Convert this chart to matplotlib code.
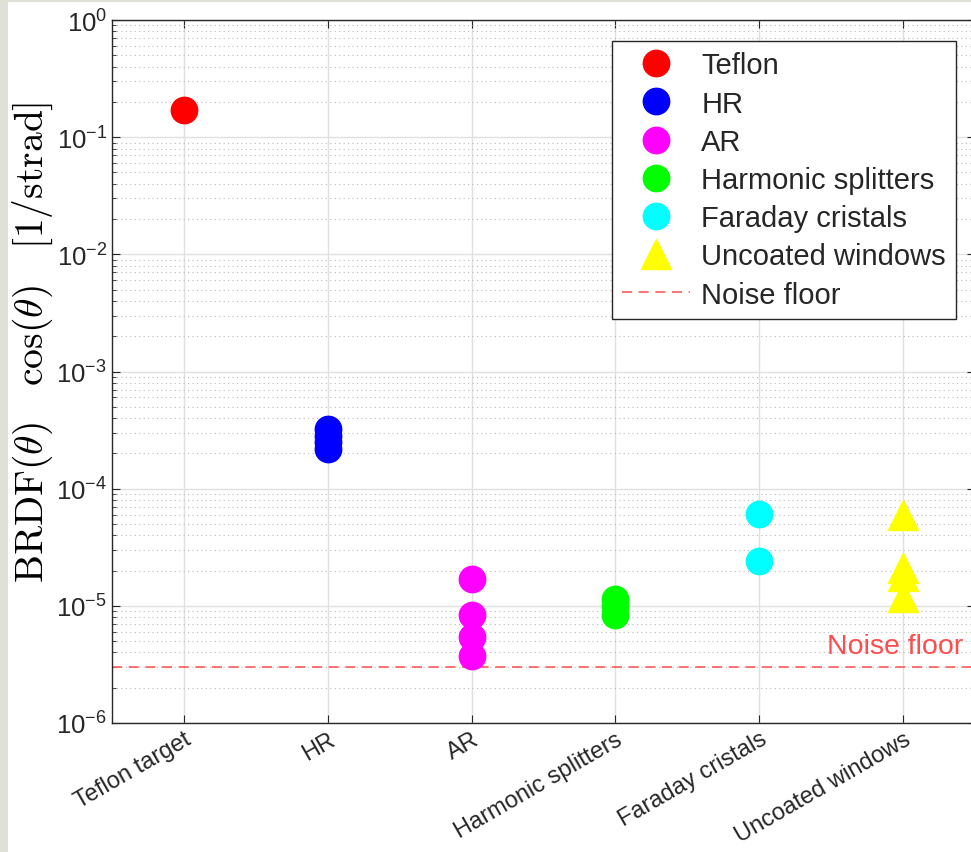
import matplotlib
matplotlib.use('Agg')
import matplotlib.pyplot as plt
from matplotlib.patches import Rectangle

plt.rcParams['font.family'] = ['Liberation Sans', 'DejaVu Sans']
plt.rcParams['mathtext.fontset'] = 'cm'

# category labels on the x axis
categories = ['Teflon target', 'HR', 'AR', 'Harmonic splitters',
              'Faraday cristals', 'Uncoated windows']

# measured BRDF*cos values per sample group
teflon = [0.17]
hr = [3.2e-4, 2.8e-4, 2.5e-4, 2.2e-4]
ar = [1.7e-5, 8.4e-6, 5.4e-6, 3.7e-6]
harmonic = [1.15e-5, 1.0e-5, 8.3e-6]
faraday = [6.1e-5, 2.4e-5]
windows = [6.0e-5, 2.1e-5, 1.8e-5, 1.2e-5]
noise_floor = 3e-6

series = [
    ('Teflon', 1, teflon, 'o', '#ff0000'),
    ('HR', 2, hr, 'o', '#0000ff'),
    ('AR', 3, ar, 'o', '#ff00ff'),
    ('Harmonic splitters', 4, harmonic, 'o', '#00ff00'),
    ('Faraday cristals', 5, faraday, 'o', '#00ffff'),
    ('Uncoated windows', 6, windows, '^', '#ffff00'),
]

fig = plt.figure(figsize=(9.71, 8.53), dpi=100)
fig.patch.set_facecolor('#dfe1d9')
fig.patches.append(Rectangle((8 / 971, 0), 1, (853 - 3) / 853,
                             transform=fig.transFigure, facecolor='white',
                             edgecolor='none', zorder=-1))

ax = fig.add_axes([112 / 971, 129 / 853, 863 / 971, 703 / 853])

for name, xpos, vals, mk, col in series:
    ms = 19 if mk == 'o' else 21
    ax.plot([xpos] * len(vals), vals, linestyle='none', marker=mk,
            markersize=ms, color=col, markeredgecolor=col, label=name,
            zorder=3)

ax.axhline(noise_floor, color='#ff5a5a', linestyle=(0, (6, 4)), lw=1.2,
           label='Noise floor', zorder=2)
ax.text(6.42, 4.5e-6, 'Noise floor', color='#ff4d4d', fontsize=20.5,
        ha='right', va='center')

ax.set_yscale('log')
ax.set_ylim(1e-6, 1)
ax.set_xlim(0.5, 6.5)
ax.set_xticks(range(1, 7))
ax.set_xticklabels(categories, rotation=30, ha='right',
                   rotation_mode='anchor', fontsize=17, color='#262626')
ax.set_yticks([10.0 ** k for k in range(-6, 1)])
ax.tick_params(axis='y', labelsize=18.5, labelcolor='#262626')
ax.tick_params(which='both', direction='in', top=True, right=True,
               color='#262626')
ax.tick_params(which='major', length=6)
ax.tick_params(which='minor', length=3)
ax.tick_params(axis='x', which='minor', bottom=False, top=False)

ax.grid(True, which='major', color='#e0e0e0', lw=1.0)
ax.grid(True, which='minor', axis='y', color='#b8b8b8', lw=0.8,
        linestyle=(0, (1, 3)))
ax.set_axisbelow(True)
for sp in ax.spines.values():
    sp.set_color('#262626')
    sp.set_linewidth(1.0)

ax.set_ylabel(r'$\mathrm{BRDF}(\theta)\quad\cos(\theta)\quad[1/\mathrm{strad}]$',
              fontsize=28.5)
ax.yaxis.set_label_coords(-0.066, 0.543)

leg = ax.legend(loc='upper right', bbox_to_anchor=(0.978, 0.970),
                borderaxespad=0, fontsize=21, fancybox=False,
                edgecolor='#262626', framealpha=1, labelspacing=0.35,
                handlelength=2.3, handletextpad=0.4, borderpad=0.35)
leg.get_frame().set_linewidth(1.0)
for t in leg.get_texts():
    t.set_color('#262626')

fig.savefig('out.png', dpi=100, facecolor=fig.get_facecolor())
